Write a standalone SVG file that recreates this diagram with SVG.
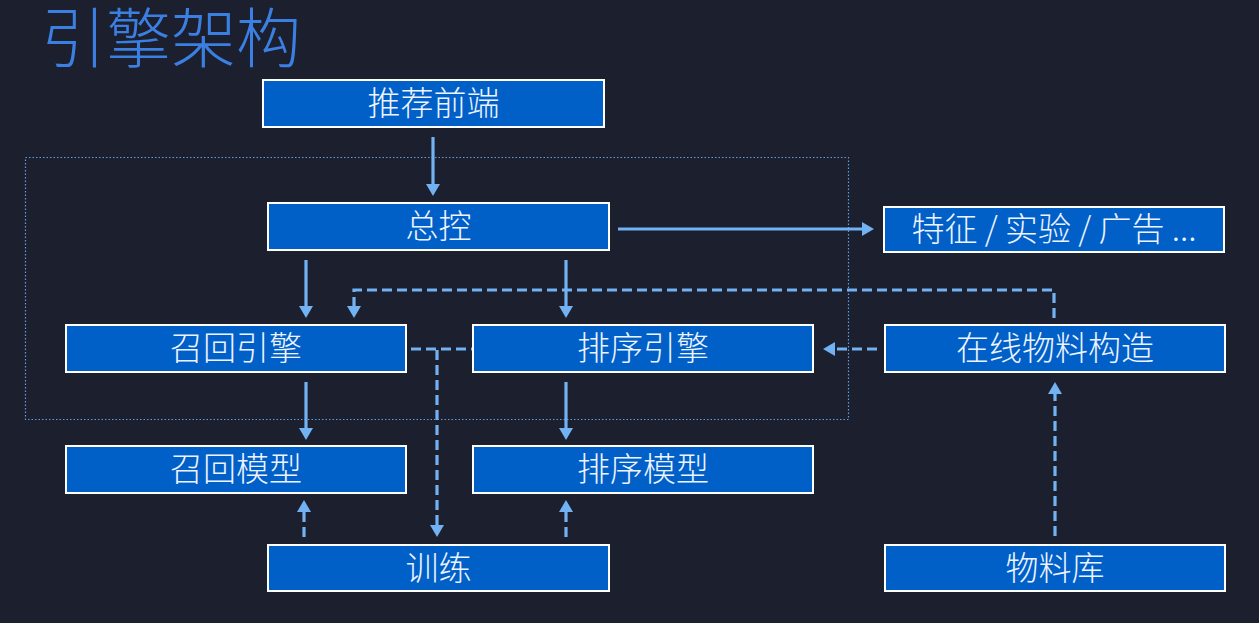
<svg xmlns="http://www.w3.org/2000/svg" width="1259" height="623" viewBox="0 0 1259 623">
<style>
.bg{fill:#1b1f2e}
.title{font-family:"Noto Sans CJK SC","Noto Sans",sans-serif;font-size:65px;font-weight:300;fill:#3b7fe2}
.box{fill:#0060c8;stroke:#ffffff;stroke-width:2}
.lbl{font-family:"Noto Sans CJK SC","Noto Sans",sans-serif;font-size:33px;font-weight:300;fill:#eef4ff;text-anchor:middle}
.solid{stroke:#72b2f2;stroke-width:3.2;fill:none}
.dash{stroke:#72b2f2;stroke-width:3.2;fill:none;stroke-dasharray:10 5}
.frame{stroke:#5f9fe0;stroke-width:1.2;fill:none;stroke-dasharray:1.5 2}
</style>
<defs>
<marker id="ah" viewBox="0 0 12 14" refX="2" refY="7" markerWidth="12" markerHeight="14" markerUnits="userSpaceOnUse" orient="auto">
<path d="M0,0 L12,7 L0,14 z" fill="#72b2f2"/>
</marker>
</defs>
<rect class="bg" x="0" y="0" width="1259" height="623"/>
<text class="title" x="41" y="62">引擎架构</text>
<rect class="frame" x="25.5" y="157.5" width="823" height="262"/>
<g id="connectors">
<line class="solid" x1="433" y1="137" x2="433" y2="186" marker-end="url(#ah)"/>
<line class="solid" x1="618" y1="229" x2="864" y2="229" marker-end="url(#ah)"/>
<line class="solid" x1="306" y1="260" x2="306" y2="308" marker-end="url(#ah)"/>
<line class="solid" x1="566" y1="260" x2="566" y2="308" marker-end="url(#ah)"/>
<line class="solid" x1="306" y1="382" x2="306" y2="430" marker-end="url(#ah)"/>
<line class="solid" x1="566" y1="382" x2="566" y2="430" marker-end="url(#ah)"/>
<path class="dash" d="M1054,318 L1054,290 L354,290 L354,308" marker-end="url(#ah)"/>
<line class="dash" x1="877" y1="349" x2="833" y2="349" marker-end="url(#ah)"/>
<line class="dash" x1="411" y1="349" x2="472" y2="349"/>
<line class="dash" x1="437" y1="350" x2="437" y2="527" marker-end="url(#ah)"/>
<line class="dash" x1="304" y1="537" x2="304" y2="510" marker-end="url(#ah)"/>
<line class="dash" x1="566" y1="537" x2="566" y2="510" marker-end="url(#ah)"/>
<line class="dash" x1="1055" y1="536" x2="1055" y2="392" marker-end="url(#ah)"/>
</g>
<g id="n-front"><rect class="box" x="263" y="80" width="341" height="47"/><text class="lbl" x="433.5" y="115">推荐前端</text></g>
<g id="n-master"><rect class="box" x="268" y="203" width="341" height="47"/><text class="lbl" x="438.5" y="238">总控</text></g>
<g id="n-feature"><rect class="box" x="884" y="207" width="340" height="45"/><text class="lbl" x="1054" y="241">特征 / 实验 / 广告 ...</text></g>
<g id="n-recall"><rect class="box" x="66" y="325" width="340" height="47"/><text class="lbl" x="236" y="360">召回引擎</text></g>
<g id="n-rank"><rect class="box" x="473" y="325" width="340" height="47"/><text class="lbl" x="643" y="360">排序引擎</text></g>
<g id="n-online"><rect class="box" x="885" y="325" width="340" height="47"/><text class="lbl" x="1055" y="360">在线物料构造</text></g>
<g id="n-recallmodel"><rect class="box" x="66" y="446" width="340" height="47"/><text class="lbl" x="236" y="481">召回模型</text></g>
<g id="n-rankmodel"><rect class="box" x="473" y="446" width="340" height="47"/><text class="lbl" x="643" y="481">排序模型</text></g>
<g id="n-train"><rect class="box" x="268" y="545" width="341" height="46"/><text class="lbl" x="438.5" y="580">训练</text></g>
<g id="n-material"><rect class="box" x="885" y="545" width="340" height="46"/><text class="lbl" x="1055" y="580">物料库</text></g>
</svg>
